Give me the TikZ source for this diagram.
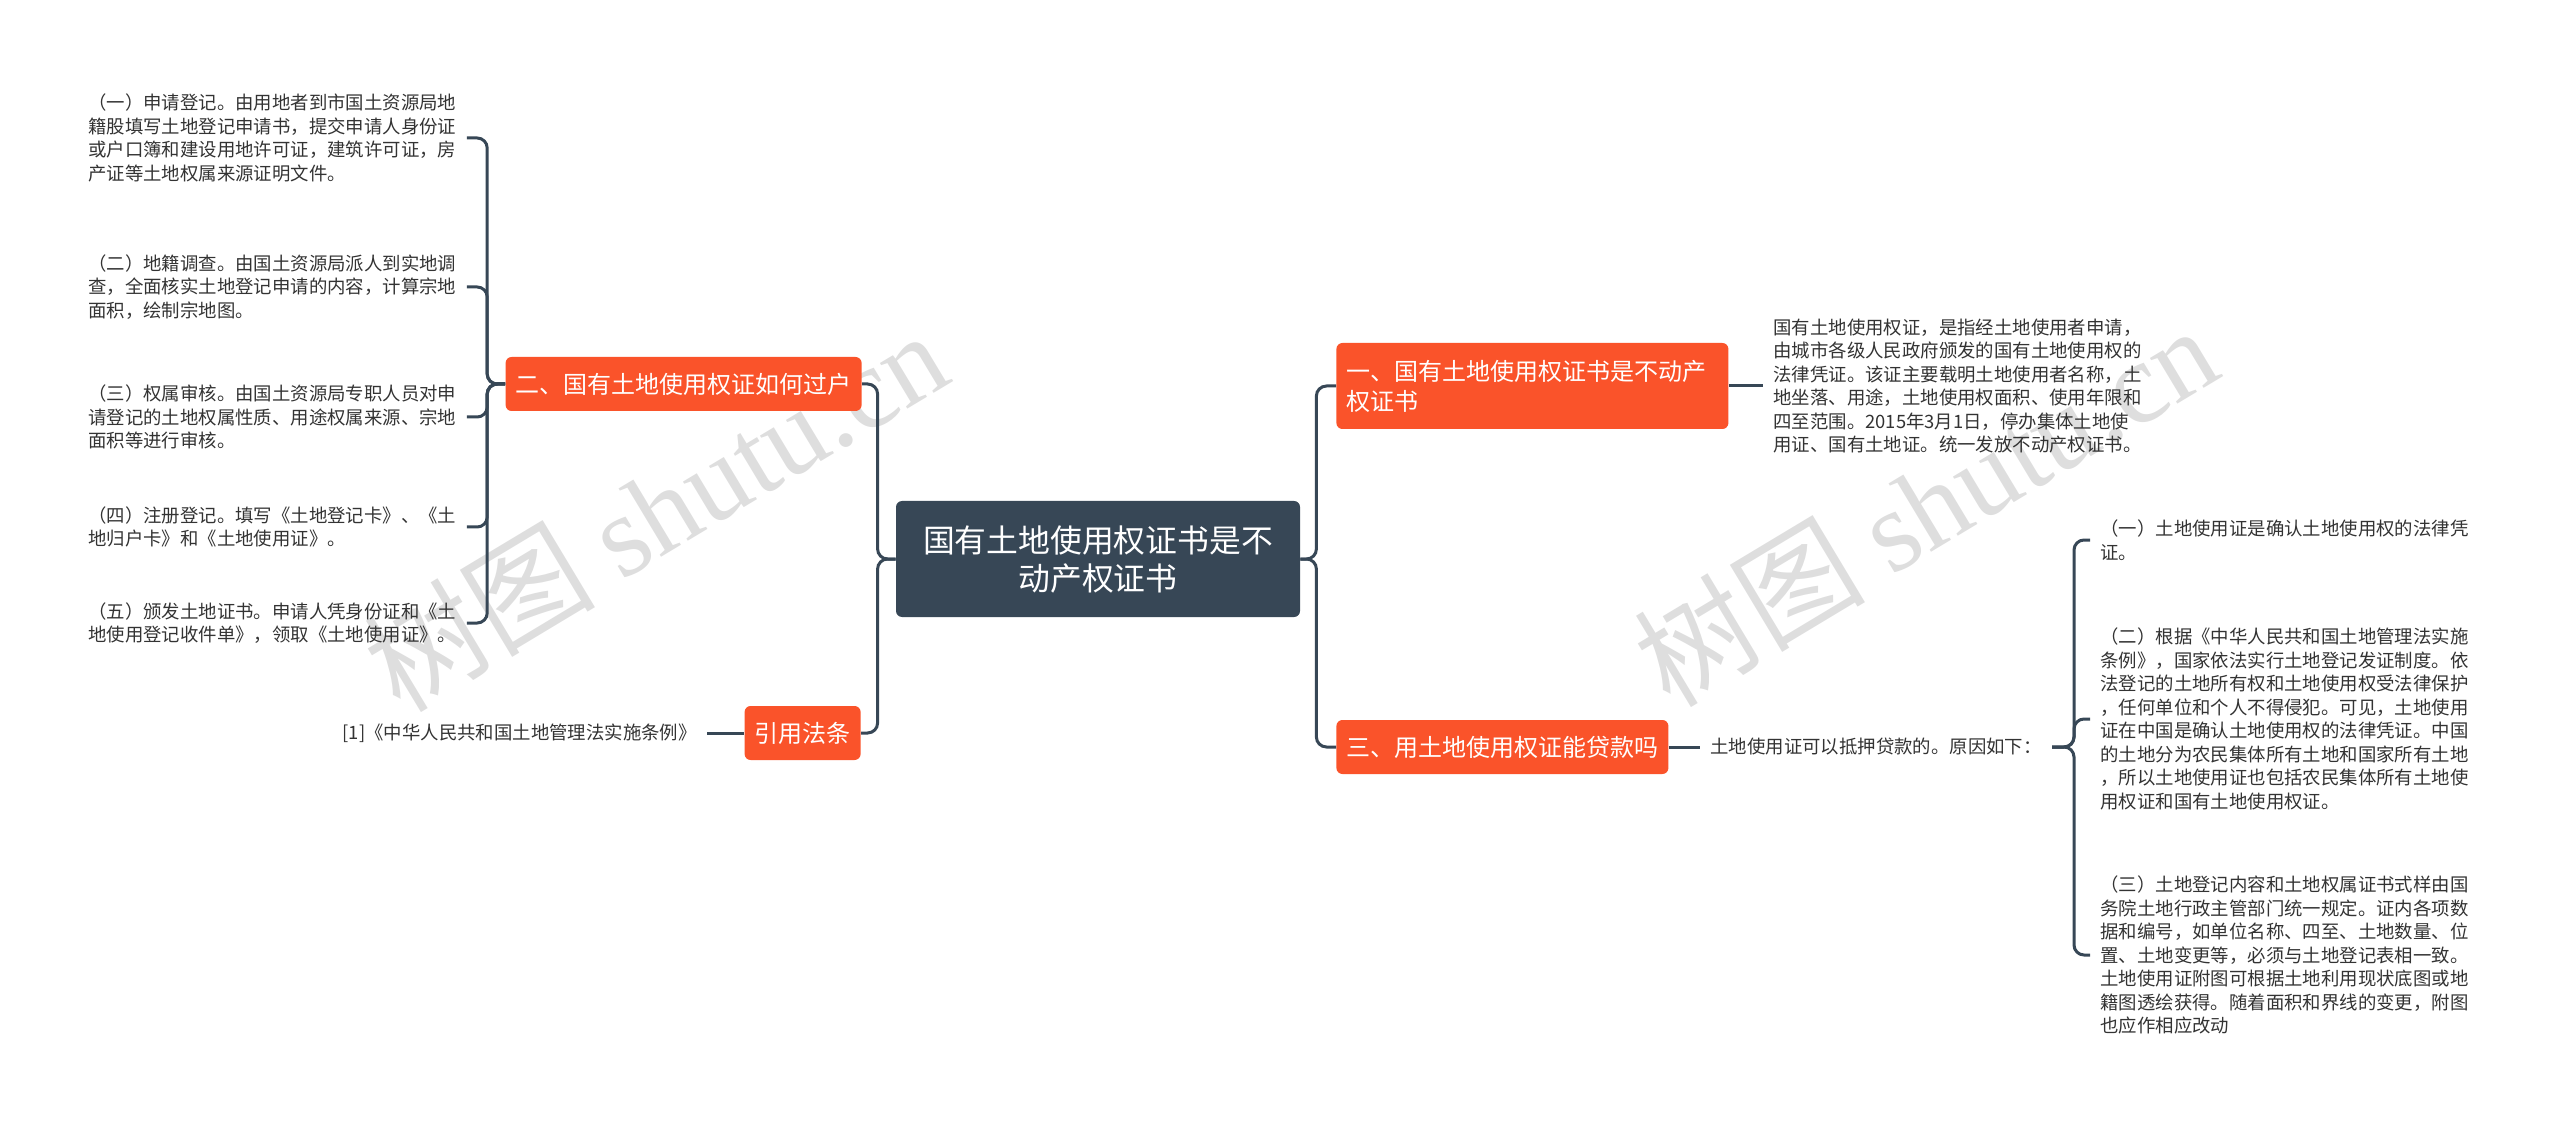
\documentclass[tikz,border=0pt]{standalone}
\usepackage{fontspec}
\setmainfont{Noto Sans CJK SC}
\newfontfamily\wmlatin{Liberation Serif}
\usepackage{tikz}
\definecolor{slate}{RGB}{55,71,86}
\definecolor{topicred}{RGB}{250,83,42}
\definecolor{leaftext}{RGB}{51,51,51}
\tikzset{
    rootbox/.style={rectangle, rounded corners=3pt, fill=slate, text=white,
                    align=center, text width=180pt, minimum width=202pt,
                    minimum height=58pt, font=\fontsize{15.9}{19}\selectfont},
    topicbox/.style={rectangle, rounded corners=3pt, fill=topicred, text=white,
                     inner xsep=5pt, minimum height=27pt,
                     font=\fontsize{12}{15}\selectfont},
    leaf/.style={align=left, inner sep=5pt, text=leaftext,
                 font=\fontsize{9.2}{11.75}\selectfont},
    conn/.style={draw=slate, line width=1.5pt, rounded corners=5pt},
    wmark/.style={text=black!13, rotate=31, font=\fontsize{58}{60}\selectfont},
}
\begin{document}
\begin{tikzpicture}[x=0.5pt, y=-0.5pt]
    \useasboundingbox (0,0) rectangle (2560,1128);
    % watermarks
    \node[wmark] (wm1) at (655,510) {树图 {\wmlatin shutu.cn}};
    \node[wmark] (wm2) at (1925,505) {树图 {\wmlatin shutu.cn}};

    \node[rootbox] (cen) at (1098,559)
        {国有土地使用权证书是不\\动产权证书};

    \node[topicbox, anchor=east] (b2) at (862,384)
        {二、国有土地使用权证如何过户};
    \node[topicbox, anchor=east] (bref) at (861,733)
        {引用法条};
    \node[topicbox, anchor=west, align=left, text width=186pt,
          minimum height=43pt] (b1) at (1336,386)
        {一、国有土地使用权证书是不动产\\权证书};
    \node[topicbox, anchor=west] (b3) at (1336,747)
        {三、用土地使用权证能贷款吗};

    % left leaves
    \node[leaf, anchor=west] (t1) at (78,138)
        {（一）申请登记。由用地者到市国土资源局地\\
        籍股填写土地登记申请书，提交申请人身份证\\
        或户口簿和建设用地许可证，建筑许可证，房\\
        产证等土地权属来源证明文件。};
    \node[leaf, anchor=west] (t2) at (78,287)
        {（二）地籍调查。由国土资源局派人到实地调\\
        查，全面核实土地登记申请的内容，计算宗地\\
        面积，绘制宗地图。};
    \node[leaf, anchor=west] (t3) at (78,417)
        {（三）权属审核。由国土资源局专职人员对申\\
        请登记的土地权属性质、用途权属来源、宗地\\
        面积等进行审核。};
    \node[leaf, anchor=west] (t4) at (78,527)
        {（四）注册登记。填写《土地登记卡》、《土\\
        地归户卡》和《土地使用证》。};
    \node[leaf, anchor=west] (t5) at (78,623)
        {（五）颁发土地证书。申请人凭身份证和《土\\
        地使用登记收件单》，领取《土地使用证》。};
    \node[leaf, anchor=east] (tref) at (707,733)
        {[1]《中华人民共和国土地管理法实施条例》};

    % right leaves
    \node[leaf, anchor=west] (l1) at (1763,386)
        {国有土地使用权证，是指经土地使用者申请，\\
        由城市各级人民政府颁发的国有土地使用权的\\
        法律凭证。该证主要载明土地使用者名称，土\\
        地坐落、用途，土地使用权面积、使用年限和\\
        四至范围。2015年3月1日，停办集体土地使\\
        用证、国有土地证。统一发放不动产权证书。};
    \node[leaf, anchor=west] (l3) at (1700,747)
        {土地使用证可以抵押贷款的。原因如下：};
    \node[leaf, anchor=west] (r1) at (2090,540)
        {（一）土地使用证是确认土地使用权的法律凭\\
        证。};
    \node[leaf, anchor=west] (r2) at (2090,719)
        {（二）根据《中华人民共和国土地管理法实施\\
        条例》，国家依法实行土地登记发证制度。依\\
        法登记的土地所有权和土地使用权受法律保护\\
        ，任何单位和个人不得侵犯。可见，土地使用\\
        证在中国是确认土地使用权的法律凭证。中国\\
        的土地分为农民集体所有土地和国家所有土地\\
        ，所以土地使用证也包括农民集体所有土地使\\
        用权证和国有土地使用权证。};
    \node[leaf, anchor=west] (r3) at (2090,955)
        {（三）土地登记内容和土地权属证书式样由国\\
        务院土地行政主管部门统一规定。证内各项数\\
        据和编号，如单位名称、四至、土地数量、位\\
        置、土地变更等，必须与土地登记表相一致。\\
        土地使用证附图可根据土地利用现状底图或地\\
        籍图透绘获得。随着面积和界线的变更，附图\\
        也应作相应改动};

    % connectors
    \draw[conn] (cen.west) -- ++(-18,0) |- (b2.east);
    \draw[conn] (cen.west) -- ++(-18,0) |- (bref.east);
    \draw[conn] (cen.east) -- ++(16,0) |- (b1.west);
    \draw[conn] (cen.east) -- ++(16,0) |- (b3.west);
    \foreach \t in {t1,t2,t3,t4,t5}
        \draw[conn] (b2.west) -- ++(-18,0) |- (\t.east);
    \draw[conn] (bref.west) -- (tref.east);
    \draw[conn] (b1.east) -- (l1.west);
    \draw[conn] (b3.east) -- (l3.west);
    \foreach \t in {r1,r2,r3}
        \draw[conn] (l3.east) -- ++(22,0) |- (\t.west);
\end{tikzpicture}
\end{document}
